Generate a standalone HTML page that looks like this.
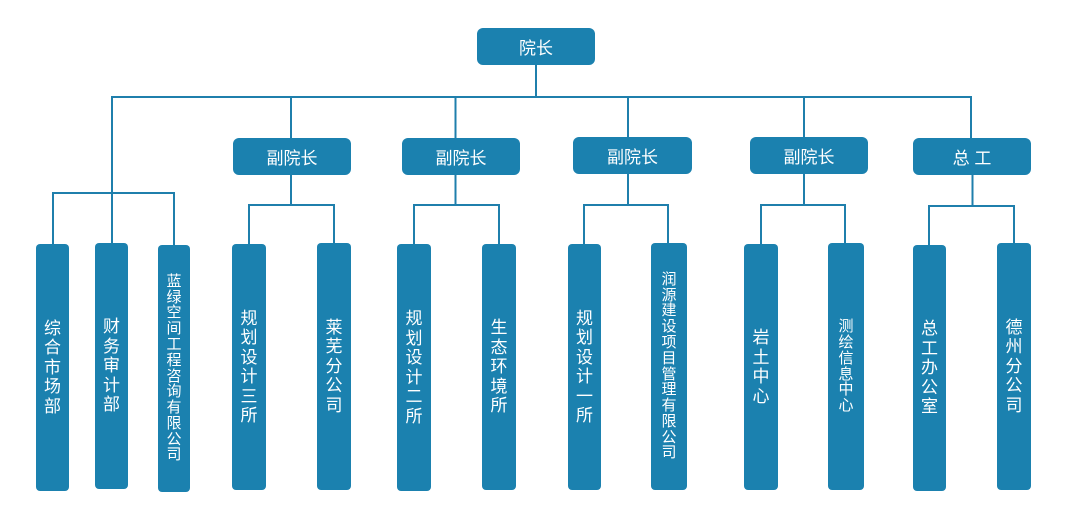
<!DOCTYPE html>
<html><head><meta charset="utf-8">
<style>
html,body{margin:0;padding:0;background:#fff;}
body{width:1065px;height:513px;position:relative;overflow:hidden;font-family:"Liberation Sans","Noto Sans CJK SC",sans-serif;}
svg{position:absolute;left:0;top:0;}
.b{position:absolute;background:#1b81af;color:#fff;display:flex;align-items:center;justify-content:center;box-sizing:border-box;}
.h{border-radius:6px;font-size:17px;height:37px;}
.v{border-radius:4px;}
.v span{display:block;width:17px;font-size:17px;line-height:19.5px;text-align:center;word-break:break-all;}
.v span.s{width:15px;font-size:15px;line-height:15.8px;}
</style></head><body>
<svg width="1065" height="513">
<g stroke="#1f7fac" stroke-width="2" fill="none">
<line x1="536" y1="65" x2="536" y2="97"/>
<line x1="111" y1="97" x2="972" y2="97"/>
<line x1="112" y1="96" x2="112" y2="193"/>
<line x1="291" y1="96" x2="291" y2="138"/>
<line x1="455.5" y1="96" x2="455.5" y2="138"/>
<line x1="628" y1="96" x2="628" y2="138"/>
<line x1="804" y1="96" x2="804" y2="138"/>
<line x1="971" y1="96" x2="971" y2="138"/>
<polyline points="53,245 53,193 174,193 174,245"/>
<line x1="112" y1="193" x2="112" y2="245"/>
<line x1="291" y1="175" x2="291" y2="205"/>
<polyline points="249,245 249,205 334,205 334,245"/>
<line x1="455.5" y1="175" x2="455.5" y2="205"/>
<polyline points="414,245 414,205 499,205 499,245"/>
<line x1="628" y1="174" x2="628" y2="205"/>
<polyline points="584,245 584,205 668,205 668,245"/>
<line x1="804" y1="174" x2="804" y2="205"/>
<polyline points="761,245 761,205 845,205 845,245"/>
<line x1="972.5" y1="175" x2="972.5" y2="206"/>
<polyline points="929,246 929,206 1014,206 1014,245"/>
</g>
</svg>

<div class="b h" style="left:477px;top:28px;width:118px;">院长</div>
<div class="b h" style="left:233px;top:138px;width:118px;">副院长</div>
<div class="b h" style="left:402px;top:138px;width:118px;">副院长</div>
<div class="b h" style="left:573px;top:137px;width:119px;">副院长</div>
<div class="b h" style="left:750px;top:137px;width:118px;">副院长</div>
<div class="b h" style="left:913px;top:138px;width:118px;">总 工</div>

<div class="b v" style="left:36px;top:244px;width:33px;height:247px;"><span>综合市场部</span></div>
<div class="b v" style="left:95px;top:243px;width:33px;height:246px;"><span>财务审计部</span></div>
<div class="b v" style="left:158px;top:245px;width:32px;height:247px;"><span class="s">蓝绿空间工程咨询有限公司</span></div>
<div class="b v" style="left:232px;top:244px;width:34px;height:246px;"><span>规划设计三所</span></div>
<div class="b v" style="left:317px;top:243px;width:34px;height:247px;"><span>莱芜分公司</span></div>
<div class="b v" style="left:397px;top:244px;width:34px;height:247px;"><span>规划设计二所</span></div>
<div class="b v" style="left:482px;top:244px;width:34px;height:246px;"><span>生态环境所</span></div>
<div class="b v" style="left:568px;top:244px;width:33px;height:246px;"><span>规划设计一所</span></div>
<div class="b v" style="left:651px;top:243px;width:36px;height:247px;"><span class="s">润源建设项目管理有限公司</span></div>
<div class="b v" style="left:744px;top:244px;width:34px;height:246px;"><span>岩土中心</span></div>
<div class="b v" style="left:828px;top:243px;width:36px;height:247px;"><span class="s">测绘信息中心</span></div>
<div class="b v" style="left:913px;top:245px;width:33px;height:246px;"><span>总工办公室</span></div>
<div class="b v" style="left:997px;top:243px;width:34px;height:247px;"><span>德州分公司</span></div>
</body></html>
